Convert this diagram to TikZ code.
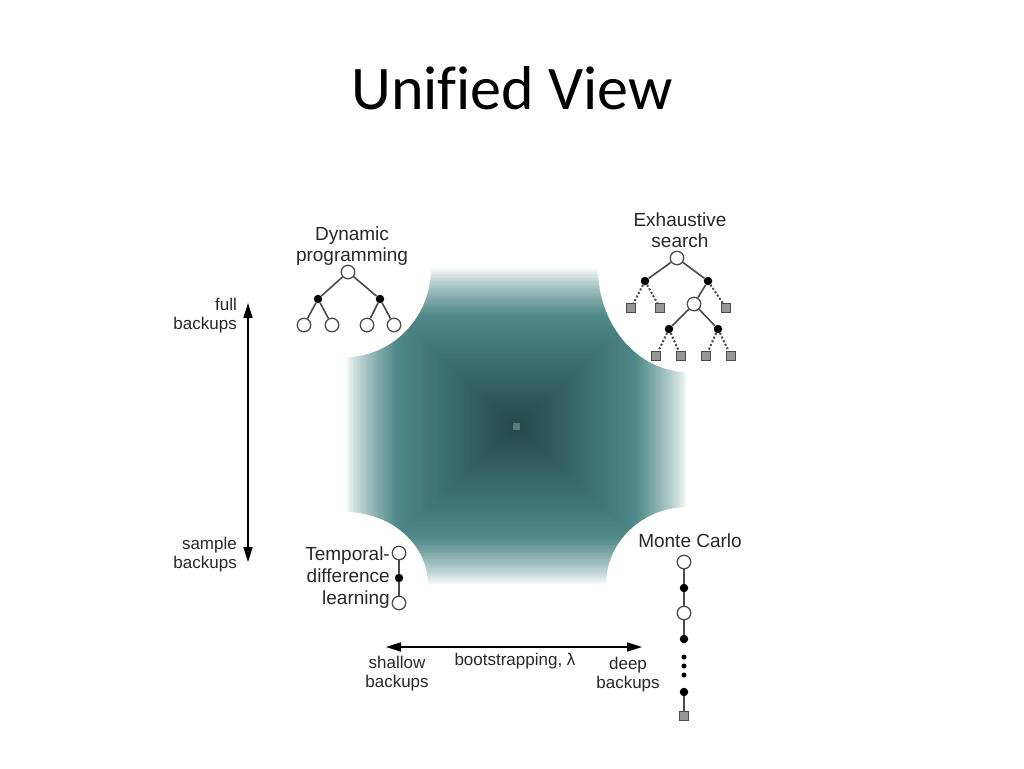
\documentclass[tikz,border=0pt]{standalone}
\usepackage{fontspec}
\setmainfont{Liberation Sans}
\newfontfamily\titlefont[Ligatures=NoCommon]{Carlito}
\usetikzlibrary{arrows.meta}
\definecolor{tealmid}{RGB}{78,136,136}
\definecolor{tealdark}{RGB}{36,72,72}
\definecolor{ink}{RGB}{40,40,40}
\definecolor{edgegray}{RGB}{75,75,75}
\definecolor{sqfill}{RGB}{150,150,150}
\definecolor{centersq}{RGB}{95,122,122}
\begin{document}
\begin{tikzpicture}[x=1pt,y=-1pt,
  opencirc/.style={circle,draw=edgegray,fill=white,line width=1.3pt,minimum size=13.5pt,inner sep=0pt},
  fdot/.style={circle,fill=black,minimum size=8.5pt,inner sep=0pt},
  smalldot/.style={circle,fill=black,minimum size=5pt,inner sep=0pt},
  leafsq/.style={rectangle,draw=edgegray,fill=sqfill,line width=1pt,minimum size=9pt,inner sep=0pt},
  treeedge/.style={draw=edgegray,line width=1.6pt},
  dotedge/.style={draw=edgegray,line width=2pt,dash pattern=on 2pt off 2pt},
  lbl/.style={text=ink,font=\fontsize{19}{20.5}\selectfont,inner sep=0pt},
  axlbl/.style={text=ink,font=\fontsize{17}{19}\selectfont,inner sep=0pt},
  dblarrow/.style={{Triangle[length=15pt,width=9pt]}-{Triangle[length=15pt,width=9pt]},line width=1.6pt,black}
]
\useasboundingbox (0,0) rectangle (1024,768);
\fill[white] (0,0) rectangle (1024,768);

% title
\node[font=\titlefont\fontsize{62}{70}\selectfont,anchor=base,inner sep=0pt] (title) at (512,109) {Unified View};

% pyramid gradient
\foreach \i in {0,...,99}{
  \pgfmathsetmacro{\t}{(\i+0.5)/100}
  \pgfmathsetmacro{\hw}{171.5*(1-\t)}
  \pgfmathsetmacro{\hh}{158.5*(1-\t)}
  \pgfmathsetmacro{\pA}{min(100,100*(\t/0.3)^0.75)}
  \pgfmathsetmacro{\pB}{max(0,100*(\t-0.3)/0.7)}
  \colorlet{tmpa}{tealmid!\pA!white}
  \colorlet{tmpc}{tealdark!\pB!tmpa}
  \fill[tmpc] ({516.5-\hw},{426.5-\hh}) rectangle ({516.5+\hw},{426.5+\hh});
}
\fill[centersq] (513,423) rectangle (520,430);

% white corner cut-outs
\fill[white] (345,268) ellipse [x radius=86, y radius=89];
\fill[white] (688,268) ellipse [x radius=90, y radius=104];
\fill[white] (345,585) ellipse [x radius=83, y radius=73];
\fill[white] (688,585) ellipse [x radius=82, y radius=78];

% Dynamic programming
\node[lbl,align=center] (dplbl) at (352,246) {Dynamic\\programming};
\node[opencirc] (dpr) at (348,272) {};
\node[fdot] (dpa) at (318,299) {};
\node[fdot] (dpb) at (380,299) {};
\node[opencirc] (dp1) at (304,325) {};
\node[opencirc] (dp2) at (332,325) {};
\node[opencirc] (dp3) at (367,325) {};
\node[opencirc] (dp4) at (394,325) {};
\draw[treeedge] (dpr) -- (dpa) (dpr) -- (dpb)
  (dpa) -- (dp1) (dpa) -- (dp2) (dpb) -- (dp3) (dpb) -- (dp4);

% Exhaustive search
\node[lbl,align=center] (eslbl) at (680,230) {Exhaustive\\search};
\node[opencirc] (esr) at (677,258) {};
\node[fdot] (esa) at (645,281) {};
\node[fdot] (esb) at (708,281) {};
\node[leafsq] (es1) at (631,308) {};
\node[leafsq] (es2) at (660,308) {};
\node[opencirc] (esc) at (694,304) {};
\node[leafsq] (es3) at (726,308) {};
\node[fdot] (esd) at (669,329) {};
\node[fdot] (ese) at (718,329) {};
\node[leafsq] (es4) at (656,356) {};
\node[leafsq] (es5) at (681,356) {};
\node[leafsq] (es6) at (706,356) {};
\node[leafsq] (es7) at (731,356) {};
\draw[treeedge] (esr) -- (esa) (esr) -- (esb) (esb) -- (esc) (esc) -- (esd) (esc) -- (ese);
\draw[dotedge] (esa) -- (es1) (esa) -- (es2) (esb) -- (es3)
  (esd) -- (es4) (esd) -- (es5) (ese) -- (es6) (ese) -- (es7);

% Temporal-difference learning
\node[lbl,align=right,anchor=east,font=\fontsize{19}{22}\selectfont] (tdlbl) at (390,578) {Temporal-\\difference\\learning};
\node[opencirc] (td1) at (399,553) {};
\node[fdot] (td2) at (399,578) {};
\node[opencirc] (td3) at (399,603) {};
\draw[treeedge] (td1) -- (td2) -- (td3);

% Monte Carlo
\node[lbl] (mclbl) at (690,541) {Monte Carlo};
\node[opencirc] (mc1) at (684,562) {};
\node[fdot] (mc2) at (684,588) {};
\node[opencirc] (mc3) at (684,613) {};
\node[fdot] (mc4) at (684,639) {};
\node[smalldot] (mc5) at (684,657) {};
\node[smalldot] (mc6) at (684,666) {};
\node[smalldot] (mc7) at (684,675) {};
\node[fdot] (mc8) at (684,692) {};
\node[leafsq] (mc9) at (684,716) {};
\draw[treeedge] (mc1) -- (mc2) -- (mc3) -- (mc4);
\draw[treeedge] (mc8) -- (mc9);

% vertical axis
\coordinate (vtop) at (248,303);
\coordinate (vbot) at (248,562);
\draw[dblarrow] (vtop) -- (vbot);
\node[axlbl,align=right,anchor=east] (full) at (237,316) {full\\backups};
\node[axlbl,align=right,anchor=east] (sample) at (237,555) {sample\\backups};

% horizontal axis
\coordinate (hleft) at (386,647);
\coordinate (hright) at (642,647);
\draw[dblarrow] (hleft) -- (hright);
\node[axlbl,align=center] (shallow) at (397,674) {shallow\\backups};
\node[axlbl] (boot) at (515,661) {bootstrapping, λ};
\node[axlbl,align=center] (deep) at (628,675) {deep\\backups};
\end{tikzpicture}
\end{document}
